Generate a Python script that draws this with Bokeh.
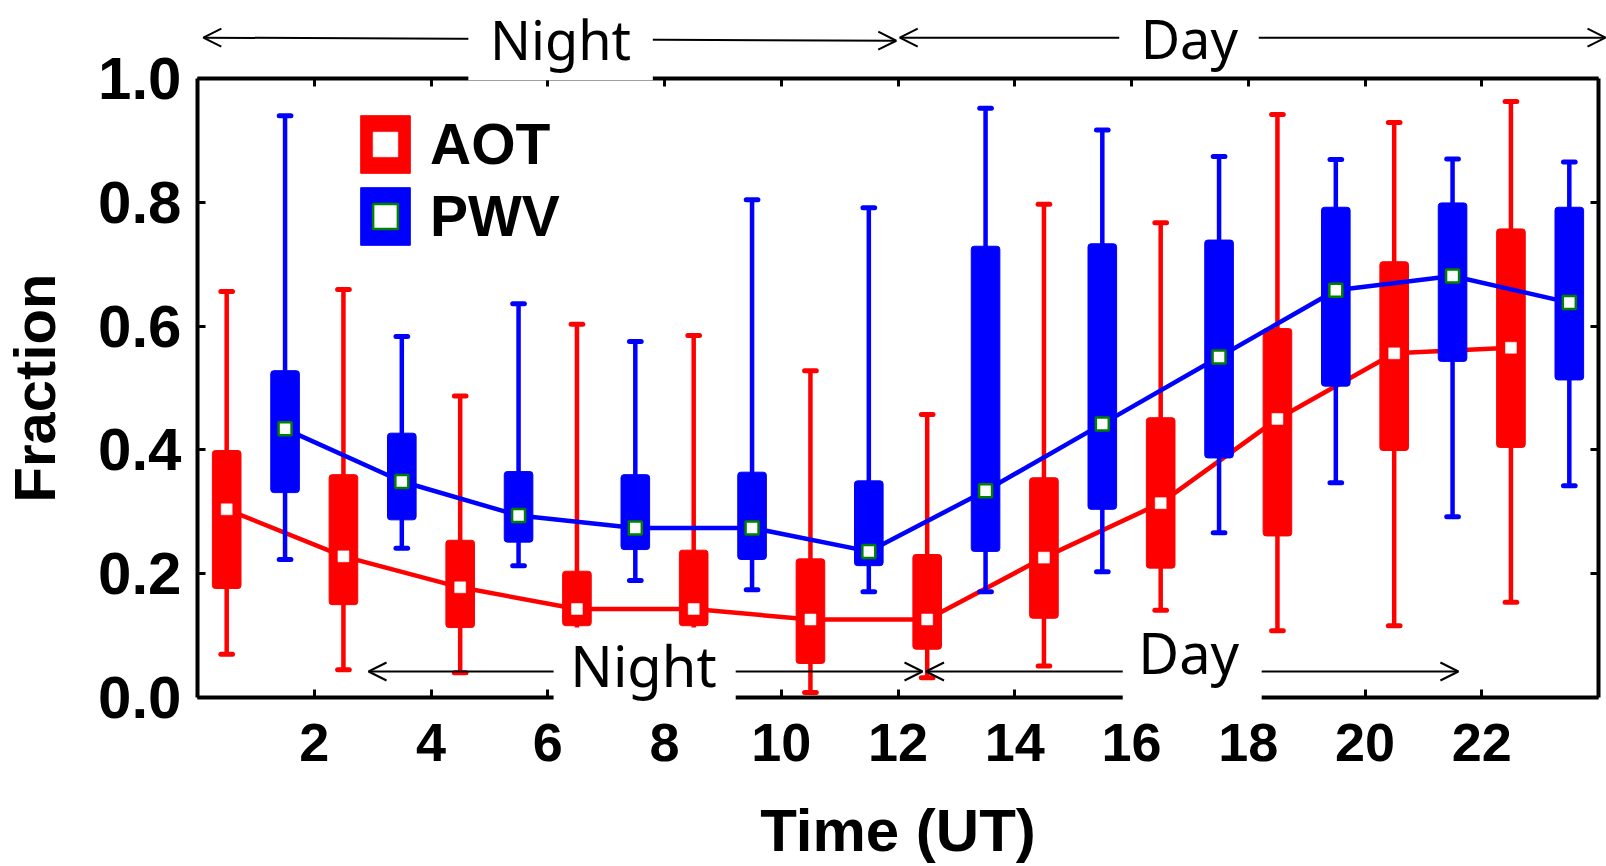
from bokeh.plotting import figure
from bokeh.models import (ColumnDataSource, FixedTicker, PrintfTickFormatter, LinearAxis,
                          Range1d, Legend, LegendItem, Arrow, OpenHead, Label, BoxAnnotation)
from bokeh.embed import file_html
from bokeh.resources import INLINE

# Hourly box statistics (fraction), AOT at odd half-hours, PWV one hour later
aot_hours = [0.5, 2.5, 4.5, 6.5, 8.5, 10.5, 12.5, 14.5, 16.5, 18.5, 20.5, 22.5]
aot_hi = [0.656, 0.659, 0.487, 0.603, 0.585, 0.528, 0.457, 0.797, 0.767, 0.942, 0.929, 0.963]
aot_q3 = [0.399, 0.360, 0.254, 0.204, 0.238, 0.224, 0.231, 0.355, 0.452, 0.596, 0.704, 0.757]
aot_med = [0.304, 0.228, 0.178, 0.143, 0.143, 0.126, 0.126, 0.226, 0.314, 0.450, 0.556, 0.565]
aot_q1 = [0.176, 0.150, 0.113, 0.116, 0.116, 0.055, 0.078, 0.128, 0.209, 0.261, 0.399, 0.404]
aot_lo = [0.070, 0.045, 0.040, 0.020, 0.020, 0.008, 0.032, 0.051, 0.141, 0.108, 0.116, 0.154]

pwv_hours = [1.5, 3.5, 5.5, 7.5, 9.5, 11.5, 13.5, 15.5, 17.5, 19.5, 21.5, 23.5]
pwv_hi = [0.940, 0.583, 0.636, 0.575, 0.804, 0.791, 0.952, 0.917, 0.874, 0.869, 0.870, 0.865]
pwv_q3 = [0.528, 0.427, 0.365, 0.360, 0.364, 0.350, 0.729, 0.733, 0.739, 0.792, 0.799, 0.792]
pwv_med = [0.434, 0.349, 0.294, 0.274, 0.274, 0.236, 0.334, 0.442, 0.550, 0.658, 0.681, 0.638]
pwv_q1 = [0.331, 0.287, 0.251, 0.239, 0.223, 0.213, 0.236, 0.304, 0.387, 0.503, 0.543, 0.513]
pwv_lo = [0.223, 0.241, 0.213, 0.189, 0.174, 0.171, 0.171, 0.203, 0.266, 0.347, 0.292, 0.342]

x_ticks = [2, 4, 6, 8, 10, 12, 14, 16, 18, 20, 22]
y_ticks = [0.0, 0.2, 0.4, 0.6, 0.8, 1.0]
x_lim = (0, 24)
y_lim = (0.0, 1.0)

RED = "#ff0000"
BLUE = "#0000ff"
GREEN = "#008000"
AXIS_FONT = "Liberation Sans"
NOTE_FONT = "Noto Sans"

# Canvas geometry: the data box 0..24 x 0..1 sits at pixels 197..1598 x 697..78,
# and the plotting area spans the whole page so the Night/Day notes can sit outside it.
W, H = 1606, 866
BOX_L, BOX_R, BOX_T, BOX_B = 197, 1598, 78, 697
xs = (BOX_R - BOX_L) / (x_lim[1] - x_lim[0])
ys = (BOX_B - BOX_T) / (y_lim[1] - y_lim[0])
x_range = Range1d(x_lim[0] - BOX_L / xs, x_lim[1] + (W - BOX_R) / xs)
y_range = Range1d(y_lim[0] - (H - BOX_B) / ys, y_lim[1] + BOX_T / ys)

p = figure(width=W, height=H, x_range=x_range, y_range=y_range,
           output_backend="svg", toolbar_location=None,
           min_border=0, x_axis_type=None, y_axis_type=None)
p.outline_line_color = None
p.background_fill_color = "white"
p.border_fill_color = "white"

# dotted grid, limited to the data box
p.xgrid.ticker = FixedTicker(ticks=x_ticks)
p.ygrid.ticker = FixedTicker(ticks=y_ticks[1:-1])
grid_style = dict(line_color="#c4c4c4", line_width=3, line_dash="4 14")
try:
    p.xgrid.cross_bounds = y_lim
    p.ygrid.cross_bounds = x_lim
    for g in (p.xgrid, p.ygrid):
        g.grid_line_color = grid_style["line_color"]
        g.grid_line_width = grid_style["line_width"]
        g.grid_line_dash = grid_style["line_dash"]
except AttributeError:
    for g in (p.xgrid, p.ygrid):
        g.grid_line_color = None
    p.segment(x0=x_ticks, y0=[y_lim[0]] * len(x_ticks), x1=x_ticks, y1=[y_lim[1]] * len(x_ticks),
              level="underlay", **grid_style)
    gy = y_ticks[1:-1]
    p.segment(x0=[x_lim[0]] * len(gy), y0=gy, x1=[x_lim[1]] * len(gy), y1=gy,
              level="underlay", **grid_style)


def make_axis(ticks, loc, bounds, font_size):
    ax = LinearAxis(ticker=FixedTicker(ticks=ticks), fixed_location=loc, bounds=bounds)
    ax.axis_line_width = 4
    ax.axis_line_color = "black"
    ax.major_tick_in = 8
    ax.major_tick_out = 0
    ax.major_tick_line_width = 3
    ax.minor_tick_line_color = None
    ax.major_label_text_font = AXIS_FONT
    ax.major_label_text_font_style = "bold"
    ax.major_label_text_font_size = font_size
    ax.major_label_text_color = "black"
    ax.axis_label_text_font = AXIS_FONT
    ax.axis_label_text_font_style = "bold"
    ax.axis_label_text_color = "black"
    return ax


xa = make_axis(x_ticks, y_lim[0], x_lim, "54px")
xa.axis_label = "Time (UT)"
xa.axis_label_text_font_size = "60px"
xa.major_label_standoff = 26
xa.axis_label_standoff = 33
p.add_layout(xa, "below")

ya = make_axis(y_ticks, x_lim[0], y_lim, "60px")
ya.formatter = PrintfTickFormatter(format="%.1f")
ya.axis_label = "Fraction"
ya.axis_label_text_font_size = "58px"
ya.major_label_standoff = 16
ya.axis_label_standoff = 28
p.add_layout(ya, "left")

top_ax = make_axis(x_ticks, y_lim[1], x_lim, "0px")
right_ax = make_axis(y_ticks, x_lim[1], y_lim, "0px")
for ax in (top_ax, right_ax):
    ax.major_label_text_alpha = 0
p.add_layout(top_ax, "above")
p.add_layout(right_ax, "right")

aot = ColumnDataSource(dict(x=aot_hours, hi=aot_hi, q3=aot_q3, med=aot_med, q1=aot_q1, lo=aot_lo,
                            cl=[h - 0.1 for h in aot_hours], cr=[h + 0.1 for h in aot_hours]))
pwv = ColumnDataSource(dict(x=pwv_hours, hi=pwv_hi, q3=pwv_q3, med=pwv_med, q1=pwv_q1, lo=pwv_lo,
                            cl=[h - 0.1 for h in pwv_hours], cr=[h + 0.1 for h in pwv_hours]))


def draw_series(src, color, edge, marker_size, edge_width):
    p.segment(x0="x", y0="lo", x1="x", y1="hi", source=src, line_color=color, line_width=4.5)
    for end in ("hi", "lo"):
        p.segment(x0="cl", y0=end, x1="cr", y1=end, source=src, line_color=color,
                  line_width=5, line_cap="round")
    box = p.vbar(x="x", width=0.49, bottom="q1", top="q3", source=src, fill_color=color,
                 line_color=color, line_width=1, border_radius=3)
    p.line(x="x", y="med", source=src, line_color=color, line_width=4.5)
    med = p.scatter(x="x", y="med", source=src, marker="square", size=marker_size,
                    fill_color="white", line_color=edge, line_width=edge_width)
    return box, med


aot_box, aot_mark = draw_series(aot, RED, "white", 11, 0.5)
pwv_box, pwv_mark = draw_series(pwv, BLUE, GREEN, 13, 2.5)

legend = Legend(items=[LegendItem(label="AOT", renderers=[aot_box, aot_mark]),
                       LegendItem(label="PWV", renderers=[pwv_box, pwv_mark])],
                location=(354, 614), glyph_width=62, glyph_height=72, spacing=-6,
                label_standoff=14, padding=0, margin=0,
                label_text_font=AXIS_FONT, label_text_font_style="bold",
                label_text_font_size="57px", label_text_color="black",
                border_line_color=None, background_fill_alpha=0)
p.add_layout(legend)

# Night / Day spans above the box and near its floor
head = dict(size=18, line_width=2, line_color="black")
p.add_layout(Arrow(x_start=0.1, y_start=1.066, x_end=11.97, y_end=1.061,
                   start=OpenHead(**head), end=OpenHead(**head), line_width=2))
p.add_layout(Arrow(x_start=12.03, y_start=1.066, x_end=24.12, y_end=1.066,
                   start=OpenHead(**head), end=OpenHead(**head), line_width=2))
p.add_layout(Arrow(x_start=2.93, y_start=0.042, x_end=12.42, y_end=0.042,
                   start=OpenHead(**head), end=OpenHead(**head), line_width=2))
p.add_layout(Arrow(x_start=12.48, y_start=0.042, x_end=21.6, y_end=0.042,
                   start=OpenHead(**head), end=OpenHead(**head), line_width=2))


def note(x, y, text, left, right, bottom, top, size="56px"):
    # white patch behind the word, then the word itself
    p.add_layout(BoxAnnotation(left=left, right=right, bottom=bottom, top=top,
                               fill_color="white", fill_alpha=1.0, line_color=None))
    p.add_layout(Label(x=x, y=y, text=text, text_font=NOTE_FONT, text_font_size=size,
                       text_align="center", text_baseline="alphabetic", text_color="black"))


note(6.22, 1.0643, "Night", 4.64, 7.80, 0.997, 1.12, "54px")
note(16.99, 1.0650, "Day", 15.79, 18.18, 1.007, 1.12, "54px")
note(7.64, 0.0525, "Night", 6.10, 9.22, -0.013, 0.113)
note(16.98, 0.0743, "Day", 15.85, 18.23, -0.008, 0.134)

open("out.html", "w").write(file_html(p, INLINE))
